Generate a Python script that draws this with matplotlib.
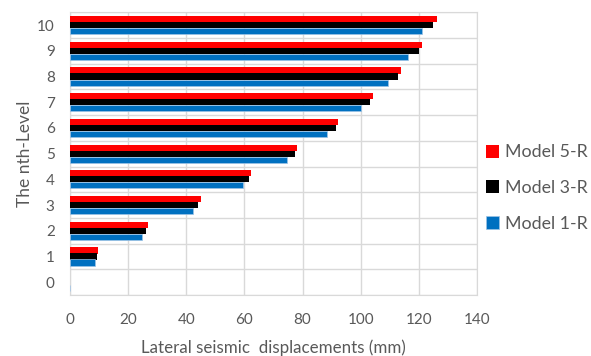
import matplotlib
matplotlib.use("Agg")
import matplotlib.pyplot as plt
import numpy as np

levels = list(range(0, 11))
model5 = [0, 9.7, 26.8, 45.0, 62.4, 78.1, 92.1, 104.1, 113.8, 121.2, 126.1]
model3 = [0, 9.4, 26.2, 44.2, 61.5, 77.3, 91.4, 103.1, 113.0, 120.1, 125.0]
model1 = [0, 8.7, 24.8, 42.4, 59.4, 74.8, 88.3, 100.1, 109.4, 116.3, 121.2]
xticks = [0, 20, 40, 60, 80, 100, 120, 140]

plt.rcParams['font.family'] = ['Lato', 'DejaVu Sans']
fig = plt.figure(figsize=(5.91, 3.56), dpi=100)
ax = fig.add_axes([0.1184, 0.1713, 0.807 - 0.1184, 0.9654 - 0.1713])

y = np.array(levels)
h = 0.24
ax.barh(y + 0.235, model5, height=h, color='#FF0000', label='Model 5-R', zorder=3)
ax.barh(y, model3, height=h, color='#000000', label='Model 3-R', zorder=3)
ax.barh(y - 0.235, model1, height=h, color='#0070C0', label='Model 1-R', zorder=3,
        edgecolor='#9DC3E6', linewidth=0.5)

ax.set_xlim(0, 140)
ax.set_ylim(-0.5, 10.5)
ax.set_xticks(xticks)
ax.set_yticks(levels)
ax.set_yticks(np.arange(-0.5, 11, 1), minor=True)
ax.grid(True, axis='x', color='#D9D9D9', linewidth=1, zorder=0)
ax.grid(True, axis='y', which='minor', color='#D9D9D9', linewidth=1, zorder=0)
ax.tick_params(axis='both', which='both', length=0, labelsize=11, labelcolor='#595959')
ax.tick_params(axis='x', pad=13)
ax.tick_params(axis='y', pad=11)
for s in ax.spines.values():
    s.set_color('#D9D9D9')
ax.set_xlabel('Lateral seismic  displacements (mm)', fontsize=12.2, color='#595959', labelpad=9)
ax.set_ylabel('The nth-Level', fontsize=12.5, color='#595959', labelpad=3)

handles, labels = ax.get_legend_handles_labels()
leg = fig.legend(handles, labels, loc='center left', bbox_to_anchor=(0.822, 0.472),
                 frameon=False, fontsize=12.8, handlelength=0.72, handleheight=0.72,
                 labelspacing=1.1, handletextpad=0.35, borderaxespad=0, borderpad=0)
for t in leg.get_texts():
    t.set_color('#595959')

fig.savefig('out.png', dpi=100)
